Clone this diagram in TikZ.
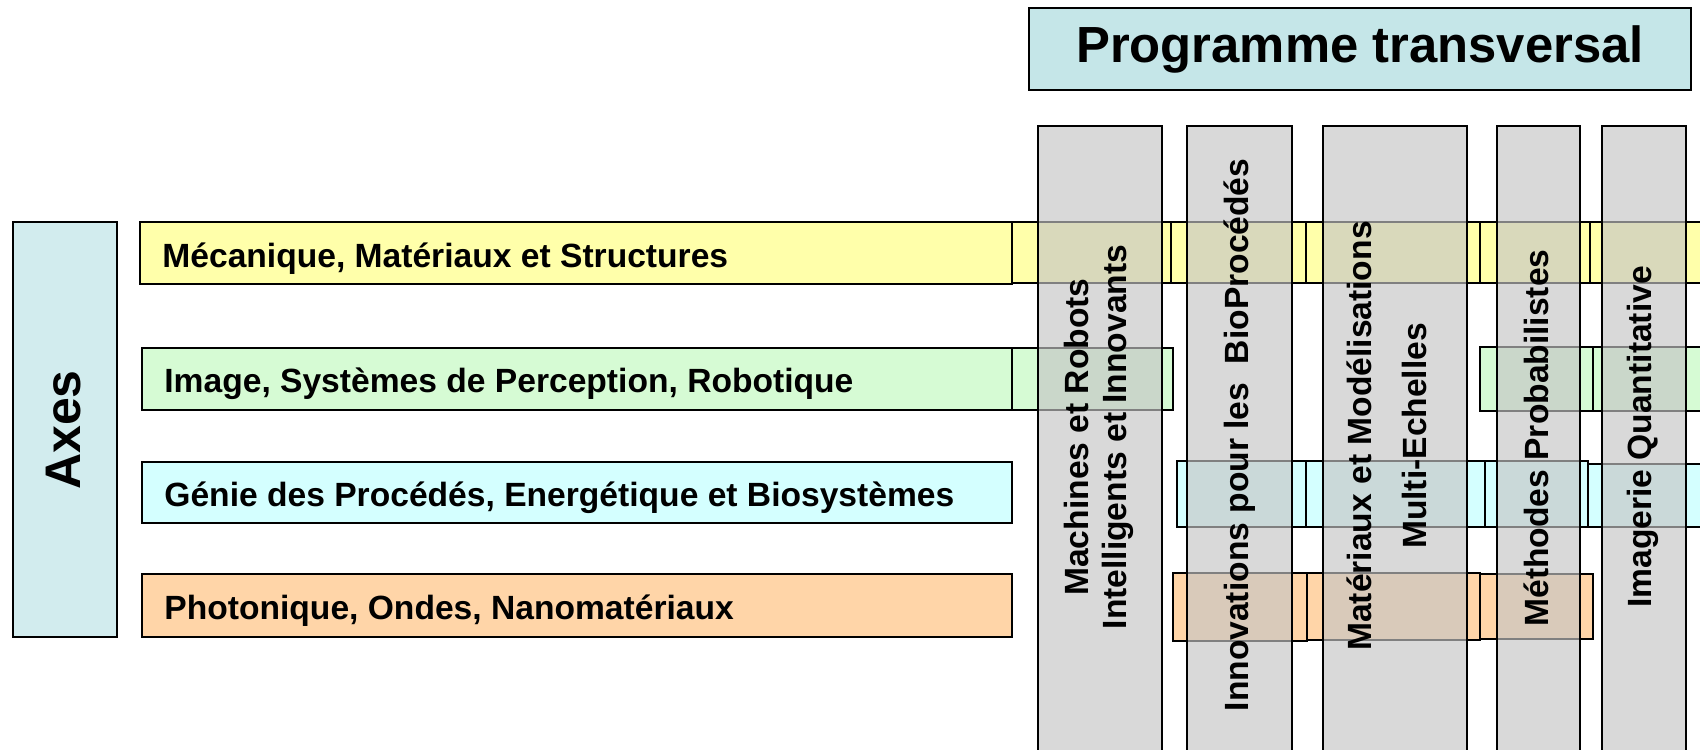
\documentclass[tikz,border=0pt]{standalone}
\usepackage{fontspec}
\setmainfont{Liberation Sans}
\definecolor{ttl}{RGB}{197,230,232}
\definecolor{axe}{RGB}{210,236,238}
\definecolor{yel}{RGB}{255,255,170}
\definecolor{grn}{RGB}{214,251,212}
\definecolor{cyn}{RGB}{212,255,255}
\definecolor{org}{RGB}{255,213,168}
\definecolor{colg}{RGB}{197,197,197}
\begin{document}
\begin{tikzpicture}[x=0.5pt,y=-0.5pt,
  bar/.style={draw=black,line width=1pt},
  colbox/.style={draw=black,line width=1pt,fill=colg,fill opacity=0.65,draw opacity=1},
  bartext/.style={anchor=west,inner sep=0pt,font=\bfseries\fontsize{16.8}{19.5}\selectfont},
  coltext/.style={rotate=90,align=center,inner sep=0pt,font=\bfseries\fontsize{16.8}{19}\selectfont},
  bigtext/.style={inner sep=0pt,font=\bfseries\fontsize{25}{29}\selectfont}]
\useasboundingbox (0,0) rectangle (1700,749);
% title
\node[draw=black,line width=1pt,fill=ttl,minimum width=331pt,minimum height=41pt,inner sep=0pt,font=\bfseries\fontsize{25.4}{29}\selectfont] (title) at (1360,49.5) {Programme transversal};
% axes
\draw[bar,fill=axe] (13,222) rectangle (117,637);
\node[bigtext,rotate=90] (axes) at (64,430) {Axes};
% yellow bar
\draw[bar,fill=yel] (140,222) rectangle (1012,284);
\foreach \a/\b in {1012/1171,1171/1306,1306/1480,1480/1590,1590/1712}
  \draw[bar,fill=yel] (\a,222) rectangle (\b,283);
\node[bartext] (mec) at (162,259) {Mécanique, Matériaux et Structures};
% green bar
\draw[bar,fill=grn] (142,348) rectangle (1012,410);
\draw[bar,fill=grn] (1012,348) rectangle (1173,410);
\draw[bar,fill=grn] (1480,347) rectangle (1593,411);
\draw[bar,fill=grn] (1593,347) rectangle (1712,411);
\node[bartext] (img) at (164,383.5) {Image, Systèmes de Perception, Robotique};
% cyan bar
\draw[bar,fill=cyn] (142,462) rectangle (1012,523);
\draw[bar,fill=cyn] (1177,461) rectangle (1306,527);
\draw[bar,fill=cyn] (1306,461) rectangle (1485,527);
\draw[bar,fill=cyn] (1485,461) rectangle (1588,527);
\draw[bar,fill=cyn] (1588,464) rectangle (1712,527);
\node[bartext] (gen) at (164,497.5) {Génie des Procédés, Energétique et Biosystèmes};
% orange bar
\draw[bar,fill=org] (142,574) rectangle (1012,637);
\draw[bar,fill=org] (1173,573) rectangle (1307,641);
\draw[bar,fill=org] (1307,573) rectangle (1480,640);
\draw[bar,fill=org] (1480,574) rectangle (1593,639);
\node[bartext] (pho) at (164,610.5) {Photonique, Ondes, Nanomatériaux};
% columns
\draw[colbox] (1038,126) rectangle (1162,760);
\draw[colbox] (1187,126) rectangle (1292,760);
\draw[colbox] (1323,126) rectangle (1467,760);
\draw[colbox] (1497,126) rectangle (1580,760);
\draw[colbox] (1602,126) rectangle (1686,760);
% column texts
\node[coltext] (c1) at (1099,437) {Machines et Robots\\Intelligents et Innovants};
\node[coltext] (c2) at (1240,435) {Innovations pour les\ \ BioProcédés};
\node[coltext] (c3) at (1387,436) {Matériaux et Modélisations\\[8.5pt]Multi-Echelles};
\node[coltext] (c4) at (1536,438) {Méthodes Probabilistes};
\node[coltext] (c5) at (1643,437) {Imagerie Quantitative};
\end{tikzpicture}
\end{document}
